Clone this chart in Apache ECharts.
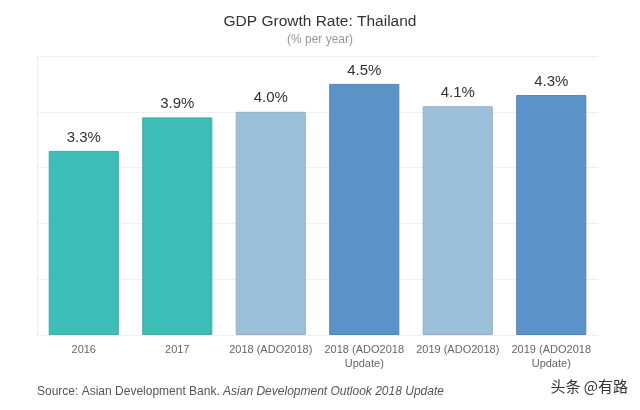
<!DOCTYPE html>
<html><head><meta charset="utf-8">
<script src="https://cdn.jsdelivr.net/npm/echarts@6/dist/echarts.min.js"></script>
<style>html,body{margin:0;padding:0;background:#fff}#c{width:640px;height:410px}</style>
</head><body><div id="c"></div>
<script>
const categories = ['2016', '2017', '2018 (ADO2018)', '2018 (ADO2018\nUpdate)', '2019 (ADO2018)', '2019 (ADO2018\nUpdate)'];
const values = [3.3, 3.9, 4.0, 4.5, 4.1, 4.3];
const barColors = ['#3dbdb8', '#3dbdb8', '#9dc0da', '#5b93c9', '#9dc0da', '#5b93c9'];
const borderColors = ['#4aa7a4', '#4aa7a4', '#98afc4', '#5584b4', '#98afc4', '#5584b4'];

const chart = echarts.init(document.getElementById('c'));
chart.setOption({
  backgroundColor: '#fff',
  animation: false,
  title: {
    text: 'GDP Growth Rate: Thailand',
    subtext: '(% per year)',
    left: 'center', top: 9, itemGap: 4,
    textStyle: {fontFamily: 'Liberation Sans', fontSize: 15.5, fontWeight: 'normal', color: '#333'},
    subtextStyle: {fontFamily: 'Liberation Sans', fontSize: 12, color: '#999'}
  },
  grid: {left: 37, right: 42, top: 56, bottom: 75},
  xAxis: {
    type: 'category', data: categories,
    axisLine: {show: false}, axisTick: {show: false},
    axisLabel: {fontFamily: 'Liberation Sans', fontSize: 11, color: '#666', margin: 8, lineHeight: 14, interval: 0}
  },
  yAxis: {
    type: 'value', min: 0, max: 5, interval: 1,
    axisLabel: {show: false}, axisLine: {show: true, lineStyle: {color: '#eeeeee'}}, axisTick: {show: false},
    splitLine: {lineStyle: {color: '#efefef'}}
  },
  series: [{
    type: 'bar', barWidth: '75%',
    data: values.map((v, i) => ({value: v, itemStyle: {color: barColors[i], borderColor: borderColors[i], borderWidth: 1}})),
    label: {show: true, position: 'top', distance: 6, formatter: p => p.value.toFixed(1) + '%',
      fontFamily: 'Liberation Sans', fontSize: 15, color: '#333'}
  }],
  graphic: [
    {type: 'text', left: 37, top: 386, style: {
      text: '{n|Source: Asian Development Bank. }{i|Asian Development Outlook 2018 Update}',
      rich: {
        n: {fontFamily: 'Liberation Sans', fontSize: 12, fill: '#555'},
        i: {fontFamily: 'Liberation Sans', fontSize: 12, fontStyle: 'italic', fill: '#555'}
      }}},
    {type: 'text', right: 12, top: 379, style: {text: '头条 @有路', font: '15px "Noto Sans CJK SC"', fill: '#333'}}
  ]
});
</script></body></html>
